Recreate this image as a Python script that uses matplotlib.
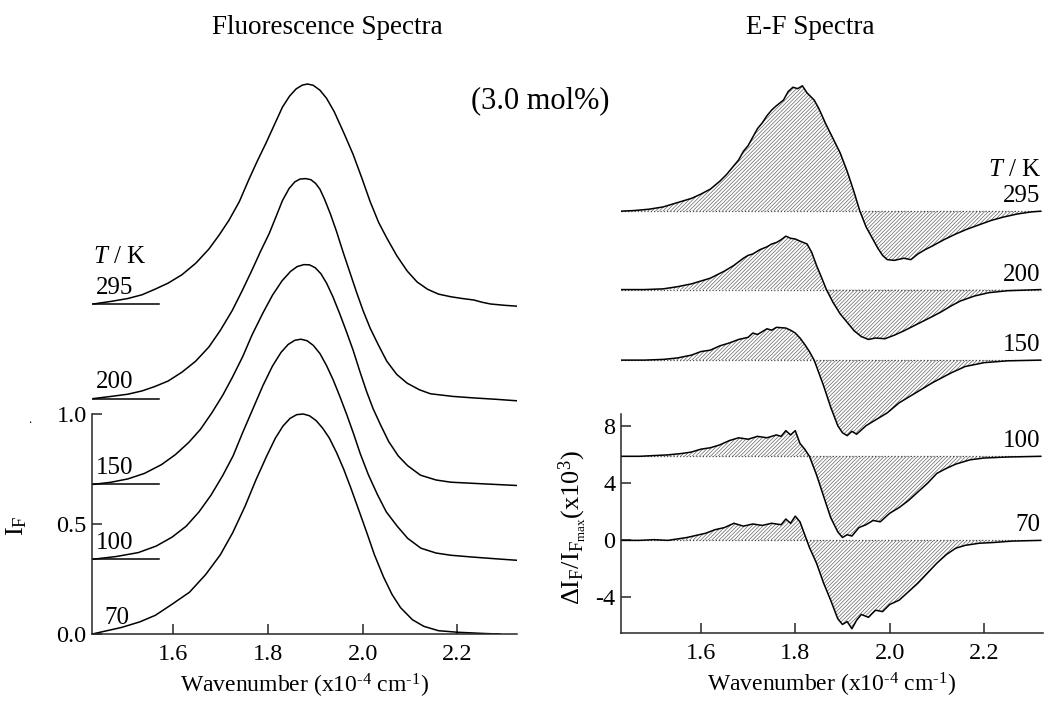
import matplotlib

matplotlib.use("Agg")
import matplotlib.pyplot as plt
import numpy as np

plt.rcParams["font.family"] = ["Liberation Serif", "DejaVu Serif"]
plt.rcParams["mathtext.fontset"] = "custom"
plt.rcParams["mathtext.rm"] = "Liberation Serif"
plt.rcParams["mathtext.it"] = "Liberation Serif:italic"
plt.rcParams["hatch.linewidth"] = 0.5

# temperatures, top to bottom
temps = ["295", "200", "150", "100", "70"]

# ---- fluorescence spectra (normalised), (wavenumber, I_F) ----
fl_offsets = [1.50, 1.07, 0.68, 0.34, 0.0]

fl_295 = [(1.432, 0), (1.470, 0.012), (1.505, 0.025), (1.535, 0.042), (1.562, 0.067),
          (1.590, 0.095), (1.619, 0.133), (1.648, 0.185), (1.676, 0.25), (1.698, 0.315),
          (1.718, 0.38), (1.740, 0.465), (1.760, 0.565), (1.778, 0.65), (1.796, 0.73),
          (1.813, 0.81), (1.831, 0.895), (1.846, 0.945), (1.860, 0.978), (1.873, 0.995),
          (1.884, 1.0), (1.896, 0.994), (1.910, 0.972), (1.924, 0.935), (1.940, 0.875),
          (1.962, 0.77), (1.980, 0.68), (1.998, 0.575), (2.016, 0.465), (2.034, 0.37),
          (2.051, 0.30), (2.072, 0.22), (2.094, 0.15), (2.115, 0.10), (2.137, 0.067),
          (2.160, 0.045), (2.186, 0.033), (2.210, 0.025), (2.235, 0.018), (2.252, 0.008),
          (2.270, 0.0), (2.300, -0.006), (2.326, -0.01)]

fl_200 = [(1.432, 0), (1.470, 0.01), (1.505, 0.02), (1.535, 0.035), (1.562, 0.055),
          (1.590, 0.08), (1.619, 0.12), (1.648, 0.17), (1.676, 0.235), (1.700, 0.31),
          (1.725, 0.40), (1.746, 0.49), (1.767, 0.585), (1.785, 0.67), (1.803, 0.75),
          (1.818, 0.83), (1.831, 0.9), (1.845, 0.955), (1.857, 0.985), (1.868, 0.998),
          (1.880, 1.0), (1.891, 0.995), (1.901, 0.978), (1.910, 0.952), (1.920, 0.905),
          (1.932, 0.84), (1.945, 0.76), (1.959, 0.665), (1.973, 0.575), (1.987, 0.485),
          (2.001, 0.40), (2.016, 0.32), (2.033, 0.245), (2.051, 0.17), (2.072, 0.11),
          (2.094, 0.07), (2.120, 0.04), (2.143, 0.022), (2.190, 0.01), (2.235, 0.003),
          (2.280, -0.003), (2.326, -0.01)]

fl_150 = [(1.432, 0), (1.470, 0.01), (1.505, 0.025), (1.540, 0.05), (1.576, 0.09),
          (1.605, 0.135), (1.633, 0.19), (1.658, 0.25), (1.682, 0.325), (1.705, 0.405),
          (1.725, 0.485), (1.747, 0.58), (1.767, 0.68), (1.790, 0.78), (1.810, 0.86),
          (1.830, 0.925), (1.848, 0.968), (1.862, 0.99), (1.876, 0.999), (1.888, 0.998),
          (1.900, 0.985), (1.912, 0.958), (1.924, 0.915), (1.937, 0.855), (1.951, 0.78),
          (1.965, 0.70), (1.980, 0.61), (1.994, 0.515), (2.008, 0.425), (2.022, 0.345),
          (2.038, 0.27), (2.055, 0.195), (2.075, 0.13), (2.095, 0.085), (2.122, 0.042),
          (2.155, 0.02), (2.186, 0.01), (2.250, 0.003), (2.326, -0.005)]

fl_100 = [(1.432, 0), (1.480, 0.012), (1.527, 0.03), (1.565, 0.06), (1.598, 0.10),
          (1.628, 0.15), (1.655, 0.215), (1.680, 0.29), (1.705, 0.38), (1.727, 0.47),
          (1.747, 0.575), (1.770, 0.69), (1.790, 0.79), (1.810, 0.878), (1.828, 0.94),
          (1.843, 0.976), (1.857, 0.995), (1.870, 1.0), (1.883, 0.993), (1.896, 0.972),
          (1.910, 0.935), (1.924, 0.88), (1.938, 0.815), (1.952, 0.74), (1.967, 0.655),
          (1.981, 0.57), (1.995, 0.48), (2.012, 0.385), (2.031, 0.295), (2.050, 0.215),
          (2.073, 0.15), (2.095, 0.095), (2.123, 0.05), (2.155, 0.028), (2.186, 0.018),
          (2.230, 0.01), (2.280, 0.002), (2.326, -0.005)]

fl_70 = [(1.430, 0.0), (1.492, 0.03), (1.530, 0.055), (1.563, 0.085), (1.598, 0.135),
         (1.635, 0.19), (1.669, 0.27), (1.700, 0.36), (1.726, 0.46), (1.752, 0.58),
         (1.775, 0.70), (1.798, 0.81), (1.816, 0.89), (1.832, 0.945), (1.847, 0.98),
         (1.861, 0.997), (1.875, 1.0), (1.888, 0.992), (1.902, 0.97), (1.916, 0.935),
         (1.930, 0.89), (1.945, 0.825), (1.960, 0.75), (1.975, 0.665), (1.990, 0.575),
         (2.009, 0.46), (2.025, 0.36), (2.044, 0.26), (2.062, 0.18), (2.080, 0.12),
         (2.105, 0.065), (2.129, 0.035), (2.160, 0.015), (2.200, 0.008), (2.260, 0.002),
         (2.290, 0.0)]

# ---- electrofluorescence spectra, (wavenumber, dI_F/I_Fmax x10^3) ----
ef_offsets = [23.1, 17.6, 12.65, 5.9, 0.0]

ef_295 = [(1.43, 0), (1.46, 0.05), (1.49, 0.14), (1.52, 0.3), (1.54, 0.5), (1.56, 0.7),
          (1.58, 0.9), (1.60, 1.2), (1.62, 1.55), (1.64, 2.1), (1.655, 2.6), (1.67, 3.2),
          (1.68, 3.6), (1.69, 4.2), (1.70, 4.6), (1.71, 5.2), (1.72, 5.8), (1.73, 6.2),
          (1.74, 6.7), (1.75, 7.1), (1.76, 7.4), (1.775, 7.8), (1.785, 8.4), (1.795, 8.7),
          (1.805, 8.6), (1.815, 8.8), (1.825, 8.3), (1.84, 7.8), (1.85, 7.2), (1.865, 6.1),
          (1.88, 5.1), (1.895, 4.1), (1.91, 2.8), (1.925, 1.3), (1.937, 0.0), (1.95, -1.1),
          (1.965, -2.0), (1.975, -2.6), (1.985, -3.1), (1.995, -3.4), (2.01, -3.45),
          (2.03, -3.3), (2.045, -3.4), (2.06, -3.0), (2.075, -2.7), (2.09, -2.45),
          (2.115, -2.0), (2.14, -1.6), (2.165, -1.25), (2.19, -0.95), (2.215, -0.65),
          (2.24, -0.42), (2.27, -0.2), (2.30, -0.05), (2.32, 0.0)]

ef_200 = [(1.43, 0), (1.48, 0), (1.52, 0.05), (1.55, 0.2), (1.58, 0.4), (1.60, 0.6),
          (1.62, 0.8), (1.635, 1.05), (1.65, 1.3), (1.67, 1.7), (1.69, 2.2), (1.70, 2.4),
          (1.71, 2.5), (1.725, 2.8), (1.74, 3.0), (1.75, 3.2), (1.76, 3.3), (1.77, 3.5),
          (1.78, 3.75), (1.79, 3.6), (1.80, 3.55), (1.81, 3.4), (1.825, 3.2), (1.835, 2.6),
          (1.845, 1.7), (1.855, 0.9), (1.866, 0.0), (1.88, -0.9), (1.895, -1.7),
          (1.91, -2.3), (1.925, -2.9), (1.94, -3.3), (1.955, -3.5), (1.97, -3.4),
          (1.99, -3.45), (2.01, -3.2), (2.03, -2.9), (2.06, -2.4), (2.09, -1.9),
          (2.11, -1.55), (2.13, -1.15), (2.15, -0.8), (2.18, -0.45), (2.21, -0.22),
          (2.25, -0.08), (2.32, 0.0)]

ef_150 = [(1.43, 0), (1.48, 0), (1.52, 0.05), (1.55, 0.15), (1.58, 0.35), (1.60, 0.6),
          (1.62, 0.7), (1.64, 1.0), (1.66, 1.2), (1.68, 1.45), (1.70, 1.6), (1.71, 1.9),
          (1.72, 1.8), (1.74, 2.2), (1.75, 2.1), (1.76, 2.3), (1.78, 2.25), (1.79, 2.1),
          (1.80, 1.9), (1.81, 1.55), (1.82, 1.1), (1.83, 0.6), (1.84, 0.0), (1.85, -0.9),
          (1.86, -1.8), (1.875, -3.3), (1.89, -4.6), (1.90, -5.1), (1.91, -5.3),
          (1.92, -5.0), (1.93, -5.2), (1.94, -4.9), (1.95, -4.6), (1.97, -4.2),
          (1.995, -3.7), (2.02, -3.0), (2.04, -2.6), (2.06, -2.2), (2.09, -1.6),
          (2.13, -0.9), (2.16, -0.45), (2.20, -0.18), (2.25, -0.05), (2.32, 0.0)]

ef_100 = [(1.43, 0), (1.47, 0), (1.50, 0.05), (1.53, 0.1), (1.56, 0.2), (1.58, 0.3),
          (1.60, 0.5), (1.62, 0.6), (1.64, 0.8), (1.66, 1.1), (1.68, 1.3), (1.70, 1.2),
          (1.72, 1.4), (1.74, 1.3), (1.76, 1.5), (1.77, 1.4), (1.78, 1.8), (1.79, 1.5),
          (1.80, 1.8), (1.81, 0.9), (1.82, 0.5), (1.83, 0.0), (1.845, -1.3), (1.86, -2.8),
          (1.875, -4.3), (1.89, -5.3), (1.90, -5.7), (1.91, -5.5), (1.92, -5.6),
          (1.935, -5.0), (1.95, -4.8), (1.965, -4.5), (1.98, -4.6), (2.00, -4.0),
          (2.02, -3.6), (2.04, -3.1), (2.06, -2.5), (2.08, -1.9), (2.10, -1.2),
          (2.12, -0.85), (2.14, -0.55), (2.17, -0.25), (2.20, -0.12), (2.25, -0.05),
          (2.32, 0.0)]

ef_70 = [(1.43, 0.0), (1.47, 0.0), (1.50, 0.05), (1.53, 0.0), (1.55, 0.1), (1.57, 0.2),
         (1.59, 0.35), (1.61, 0.5), (1.63, 0.75), (1.65, 0.9), (1.67, 1.2), (1.69, 1.0),
         (1.71, 1.15), (1.73, 1.05), (1.75, 1.2), (1.77, 1.1), (1.78, 1.5), (1.79, 1.2),
         (1.80, 1.7), (1.81, 1.3), (1.82, 0.4), (1.83, -0.5), (1.845, -1.6), (1.86, -3.0),
         (1.875, -4.2), (1.89, -5.5), (1.90, -5.9), (1.91, -5.7), (1.92, -6.2),
         (1.93, -5.6), (1.94, -5.2), (1.955, -5.4), (1.97, -4.9), (1.985, -5.0),
         (2.00, -4.5), (2.02, -4.2), (2.04, -3.6), (2.06, -3.0), (2.08, -2.3),
         (2.10, -1.6), (2.12, -1.0), (2.14, -0.55), (2.16, -0.35), (2.19, -0.2),
         (2.22, -0.15), (2.26, -0.05), (2.32, 0.0)]

fl_spectra = [fl_295, fl_200, fl_150, fl_100, fl_70]
ef_spectra = [ef_295, ef_200, ef_150, ef_100, ef_70]

XMIN, XMAX = 1.43, 2.325
xticks = [1.6, 1.8, 2.0, 2.2]
xlabel = r"Wavenumber (x10$^{\text{-}4}$ cm$^{\text{-}1}$)"


def style_axes(ax):
    for side in ("top", "right"):
        ax.spines[side].set_visible(False)
    for side in ("left", "bottom"):
        ax.spines[side].set_linewidth(1.1)
        ax.spines[side].set_color("0.15")
    ax.tick_params(direction="in", length=7, width=1.1, color="0.15", labelsize=17.5)
    ax.tick_params(axis="x", pad=7)
    ax.tick_params(axis="y", pad=4)
    ax.set_xlim(XMIN, XMAX)
    ax.set_xticks(xticks)
    ax.set_xticklabels([f"{t:.1f}" for t in xticks])
    ax.set_xlabel(xlabel, fontsize=17, labelpad=5)


fig = plt.figure(figsize=(10.6, 7.15), dpi=100)

# ---------------- left: fluorescence ----------------
ax1 = fig.add_axes([92.3 / 1060, 81 / 715, 424.4 / 1060, 572 / 715])
style_axes(ax1)
ax1.set_ylim(0, 2.6)
ax1.spines["left"].set_bounds(0, 1.0)
ax1.set_yticks([0, 0.5, 1.0])
ax1.set_yticklabels(["0.0", "0.5", "1.0"])
ax1.set_ylabel(r"I$_\mathrm{F}$", fontsize=19)
ax1.yaxis.set_label_coords(-0.15, 0.19)

for label, spec, off in zip(temps, fl_spectra, fl_offsets):
    w, v = np.array(spec).T
    ax1.plot(w, v + off, color="black", lw=1.1)
    if off > 0:
        ax1.plot([XMIN, 1.57], [off, off], color="black", lw=1.1)
    lx = 1.455 if label == "70" else 1.437
    ax1.text(lx, off + 0.075, label, fontsize=18, va="center", ha="left")
ax1.text(1.432, fl_offsets[0] + 0.215, r"$T$ / K", fontsize=18, va="center", ha="left")

# ---------------- right: E-F spectra ----------------
ax2 = fig.add_axes([620.7 / 1060, 82 / 715, 422.3 / 1060, 570 / 715])
style_axes(ax2)
ax2.set_ylim(-6.5, 33.5)
ax2.spines["left"].set_bounds(-6.5, 8.85)
ax2.set_yticks([-4, 0, 4, 8])
ax2.set_yticklabels(["-4", "0", "4", "8"])
ax2.set_ylabel(r"$\Delta$I$_\mathrm{F}$/I$_{\mathrm{F}_\mathrm{max}}$(x10$^{3}$)", fontsize=19)
ax2.yaxis.set_label_coords(-0.075, 0.185)

for label, spec, off in zip(temps, ef_spectra, ef_offsets):
    w, v = np.array(spec).T
    ax2.fill_between(w, off, v + off, facecolor="white", edgecolor="0.4",
                     hatch="/////////", linewidth=0)
    ax2.plot([XMIN, 2.32], [off, off], color="0.3", lw=0.9, ls=(0, (1, 1.6)))
    ax2.plot(w, v + off, color="black", lw=1.1)
    ax2.text(2.319, off + 1.05, label, fontsize=18, va="center", ha="right")
ax2.text(2.322, ef_offsets[0] + 2.9, r"$T$ / K", fontsize=18, va="center", ha="right")

# ---------------- titles ----------------
fig.text(327 / 1060, 1 - 27 / 715, "Fluorescence Spectra", fontsize=19.5, ha="center", va="center")
fig.text(810 / 1060, 1 - 27 / 715, "E-F Spectra", fontsize=19.5, ha="center", va="center")
fig.text(540 / 1060, 1 - 101 / 715, "(3.0 mol%)", fontsize=22, ha="center", va="center")
fig.text(30 / 1060, 1 - 420 / 715, ".", fontsize=9, ha="center", va="center")

fig.savefig("out.png", dpi=100, facecolor="white")
